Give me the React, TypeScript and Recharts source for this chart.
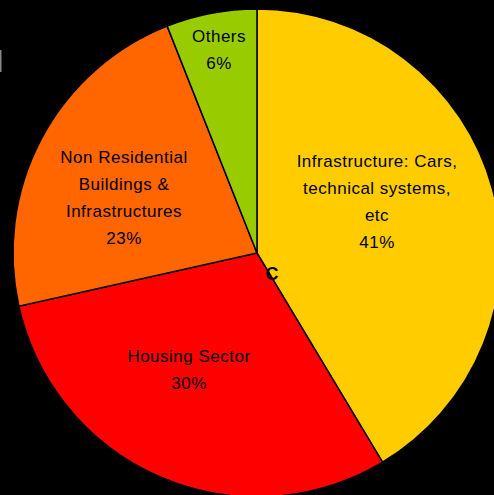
import React from "react";
import { PieChart, Pie, Cell } from "recharts";

const categories = [
  "Infrastructure: Cars, technical systems, etc",
  "Housing Sector",
  "Non Residential Buildings & Infrastructures",
  "Others",
];
const shares = [41.4, 30.1, 22.5, 6.0];
const labelLines = [
  ["Infrastructure: Cars,", "technical systems,", "etc"],
  ["Housing Sector"],
  ["Non Residential", "Buildings &", "Infrastructures"],
  ["Others"],
];
const colors = ["#FFCC00", "#FF0000", "#FF6600", "#99CC00"];

// label anchor offsets from pie centre (layout only)
const labelOffsets = [
  { dx: 120, dy: -86 },
  { dx: -68, dy: 109 },
  { dx: -133, dy: -90 },
  { dx: -38, dy: -211 },
];

const data = categories.map((name, i) => ({ name, value: shares[i] }));

const FONT = "'Liberation Sans', Arial, sans-serif";

const renderLabel = (props: any) => {
  const { cx, cy, index, value } = props;
  const off = labelOffsets[index];
  const lines = [...labelLines[index], `${Math.round(value)}%`];
  const x = cx + off.dx;
  return (
    <text
      x={x}
      y={cy + off.dy}
      textAnchor="middle"
      fill="#000"
      fontFamily={FONT}
      fontSize={17}
      letterSpacing={0.5}
    >
      {lines.map((l, i) => (
        <tspan key={i} x={x} dy={i === 0 ? 0 : 27}>
          {l}
        </tspan>
      ))}
    </text>
  );
};

export default function App() {
  return (
    <div
      style={{
        position: "fixed",
        left: 0,
        top: 0,
        width: 494,
        height: 495,
        background: "#000",
        overflow: "hidden",
      }}
    >
      <PieChart width={494} height={495} margin={{ top: 0, right: 0, bottom: 0, left: 0 }}>
        <Pie
          data={data}
          dataKey="value"
          nameKey="name"
          cx={257}
          cy={253}
          outerRadius={244}
          startAngle={90}
          endAngle={-270}
          stroke="#000"
          strokeWidth={1.5}
          label={renderLabel}
          labelLine={false}
          isAnimationActive={false}
        >
          {data.map((d, i) => (
            <Cell key={d.name} fill={colors[i]} />
          ))}
        </Pie>
      </PieChart>
      <svg
        width={494}
        height={495}
        style={{ position: "absolute", left: 0, top: 0, pointerEvents: "none" }}
      >
        <rect x={0} y={50} width={1.5} height={22} fill="#888" />
        <text x={272} y={280} textAnchor="middle" fontFamily={FONT} fontSize={18} fontWeight="bold" fill="#000">
          C
        </text>
      </svg>
    </div>
  );
}
